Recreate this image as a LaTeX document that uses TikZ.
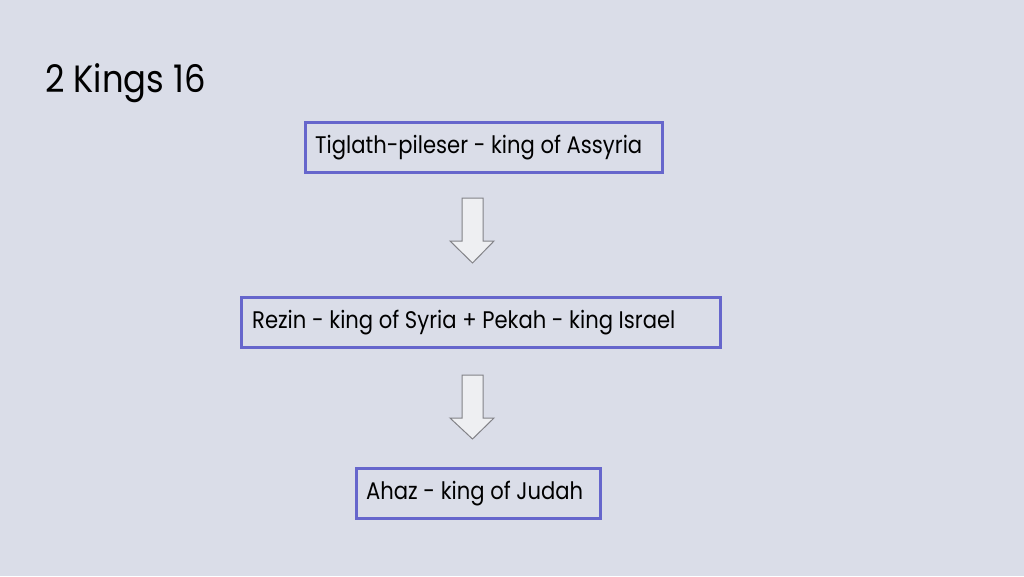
\documentclass[tikz,border=0pt]{standalone}
\usepackage{fontspec}
\setmainfont{Poppins}
\usetikzlibrary{shapes.arrows}
\definecolor{bg}{RGB}{218,221,232}
\definecolor{boxline}{RGB}{102,102,204}
\definecolor{arrfill}{RGB}{238,239,242}
\definecolor{arrline}{RGB}{130,130,135}
\newcommand{\sqz}[1]{\scalebox{0.88}[1]{#1}}
\begin{document}
\begin{tikzpicture}[x=1pt,y=-1pt,
  kbox/.style={draw=boxline,line width=2.5pt,rectangle,anchor=north west,inner xsep=0pt,inner ysep=0pt},
  ktext/.style={anchor=west,inner sep=0pt,font=\fontsize{24}{28}\selectfont},
  darrow/.style={draw=arrline,fill=arrfill,line width=1pt,line join=miter}]
\fill[bg] (0,0) rectangle (1024,576);
\useasboundingbox (0,0) rectangle (1024,576);
\node[anchor=base west,font=\fontsize{38}{44}\selectfont,inner sep=0pt] (title) at (45,92) {\scalebox{0.89}[1]{2 Kings 16}};
\node[kbox,minimum width=357pt,minimum height=50pt] (b1) at (304,121) {};
\node[ktext] (t1) at (315,148) {\sqz{Tiglath-pileser - king of Assyria}};
\node[kbox,minimum width=479pt,minimum height=50pt] (b2) at (240,296) {};
\node[ktext] (t2) at (252,323) {\sqz{Rezin - king of Syria + Pekah - king Israel}};
\node[kbox,minimum width=244pt,minimum height=50pt] (b3) at (355,467) {};
\node[ktext] (t3) at (366,494) {\sqz{Ahaz - king of Judah}};
\draw[darrow] (462,198) -- (483,198) -- (483,241) -- (494,241) -- (472.5,263) -- (450,241) -- (462,241) -- cycle;
\draw[darrow] (462,375) -- (483,375) -- (483,418) -- (494,418) -- (472.5,439) -- (450,418) -- (462,418) -- cycle;
\end{tikzpicture}
\end{document}
